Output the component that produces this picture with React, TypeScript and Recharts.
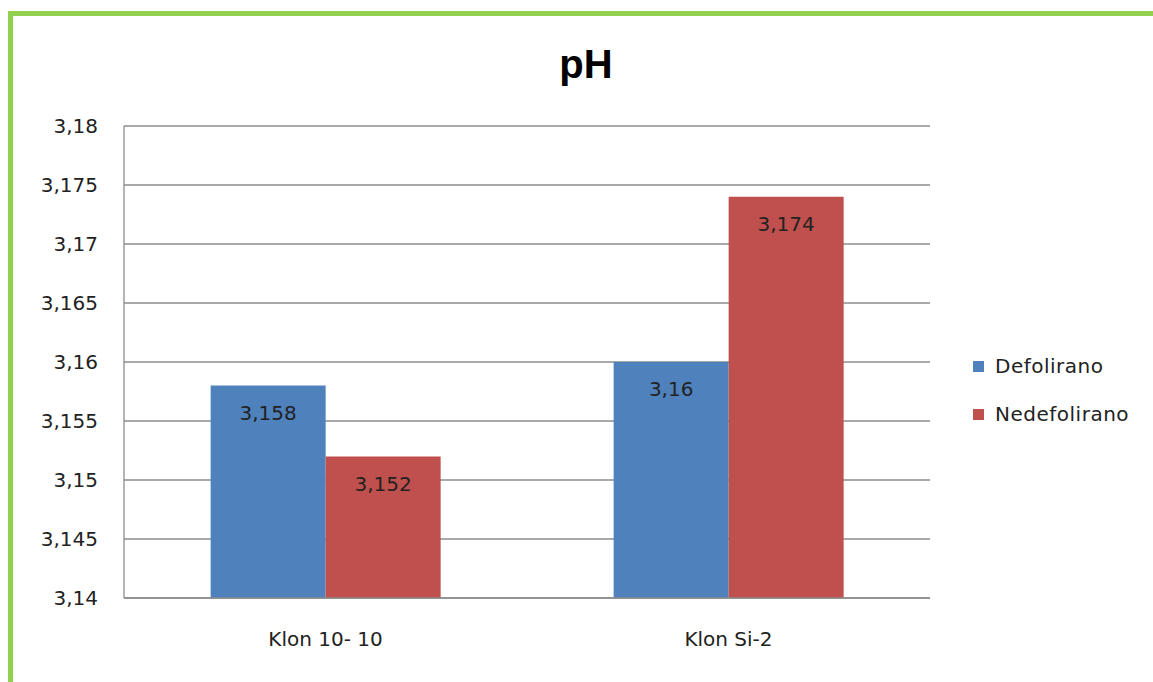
import React from "react";
import { BarChart, Bar, XAxis, YAxis, CartesianGrid, Legend, LabelList } from "recharts";

const categories = ["Klon 10- 10", "Klon Si-2"];
const defolirano = [3.158, 3.16];
const nedefolirano = [3.152, 3.174];
const yTicks = [3.14, 3.145, 3.15, 3.155, 3.16, 3.165, 3.17, 3.175, 3.18];
const seriesNames = ["Defolirano", "Nedefolirano"];
const colors = ["#4F81BD", "#C0504D"];

const data = categories.map((c, i) => ({ name: c, d: defolirano[i], n: nedefolirano[i] }));

const FONT = "'DejaVu Sans', sans-serif";
const fmt = (v: number) => String(v).replace(".", ",");

const LegendContent = (props: any) => {
  const payload = props.payload || [];
  return (
    <div style={{ fontFamily: FONT, fontSize: 20, color: "#222" }}>
      {payload.map((p: any, i: number) => (
        <div key={i} style={{ display: "flex", alignItems: "center", height: 24, marginBottom: i === 0 ? 24 : 0 }}>
          <span style={{ width: 11, height: 11, background: p.color, display: "inline-block", marginRight: 11 }} />
          <span style={{ letterSpacing: 0.5 }}>{p.value}</span>
        </div>
      ))}
    </div>
  );
};

export default function App() {
  return (
    <div style={{ position: "absolute", left: 0, top: 0, width: 1153, height: 682, overflow: "hidden", background: "#fff" }}>
      <div
        style={{
          position: "absolute",
          left: 8,
          top: 11,
          width: 1200,
          height: 700,
          border: "5px solid #92D050",
          boxSizing: "border-box",
        }}
      />
      <div
        style={{
          position: "absolute",
          left: 0,
          width: 1172,
          top: 40,
          textAlign: "center",
          fontFamily: "'Liberation Sans', Arial, sans-serif",
          fontWeight: "bold",
          fontSize: 40,
          lineHeight: "48px",
          color: "#000",
        }}
      >
        pH
      </div>
      <div style={{ position: "absolute", left: 0, top: 0 }}>
        <BarChart
          width={1153}
          height={682}
          data={data}
          margin={{ top: 126, right: 43, bottom: 54, left: 24 }}
          barCategoryGap="21.5%"
          barGap={0}
        >
          <CartesianGrid vertical={false} stroke="#8c8c8c" strokeWidth={1.3} />
          <XAxis
            dataKey="name"
            axisLine={{ stroke: "#8c8c8c", strokeWidth: 1.3 }}
            tickLine={false}
            tick={{ fontFamily: FONT, fontSize: 20, fill: "#222" }}
            tickMargin={28}
          />
          <YAxis
            width={100}
            domain={[3.14, 3.18]}
            ticks={yTicks}
            allowDataOverflow
            interval={0}
            axisLine={{ stroke: "#8c8c8c", strokeWidth: 1.3 }}
            tickLine={false}
            tickSize={0}
            tickMargin={26}
            tickFormatter={fmt}
            tick={{ fontFamily: FONT, fontSize: 20, fill: "#222" }}
          />
          <Legend
            layout="vertical"
            align="right"
            verticalAlign="middle"
            content={<LegendContent />}
            wrapperStyle={{ left: 973, top: 354, width: 180 }}
          />
          <Bar dataKey="d" name={seriesNames[0]} fill={colors[0]} isAnimationActive={false}>
            <LabelList dataKey="d" position="insideTop" offset={20} formatter={fmt} fill="#222" fontFamily={FONT} fontSize={20} />
          </Bar>
          <Bar dataKey="n" name={seriesNames[1]} fill={colors[1]} isAnimationActive={false}>
            <LabelList dataKey="n" position="insideTop" offset={20} formatter={fmt} fill="#222" fontFamily={FONT} fontSize={20} />
          </Bar>
        </BarChart>
      </div>
    </div>
  );
}
